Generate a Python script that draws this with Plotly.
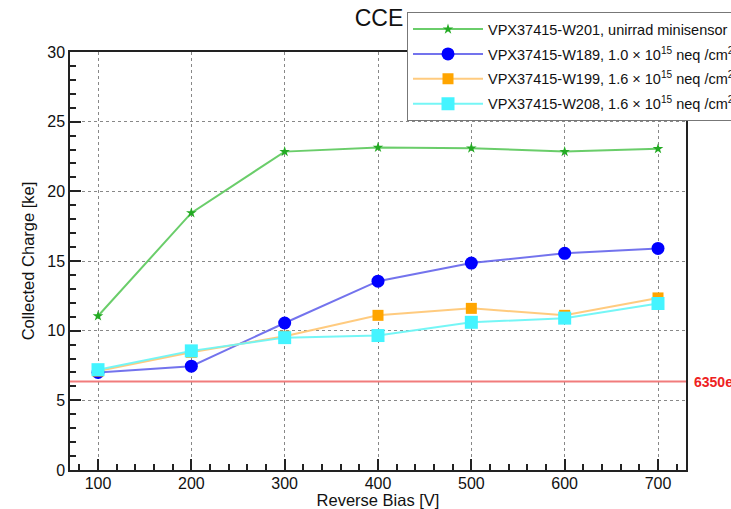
import plotly.graph_objects as go

bias = [100, 200, 300, 400, 500, 600, 700]
w201 = [11.05, 18.45, 22.85, 23.15, 23.1, 22.85, 23.05]
w189 = [7.0, 7.45, 10.55, 13.55, 14.85, 15.55, 15.9]
w199 = [7.1, 8.45, 9.6, 11.1, 11.6, 11.1, 12.35]
w208 = [7.2, 8.55, 9.5, 9.65, 10.6, 10.9, 11.95]
threshold = 6.35
threshold_label = "6350e"

names = [
    "VPX37415-W201, unirrad minisensor",
    "VPX37415-W189, 1.0 × 10<sup>15</sup> neq /cm<sup>2</sup>",
    "VPX37415-W199, 1.6 × 10<sup>15</sup> neq /cm<sup>2</sup>",
    "VPX37415-W208, 1.6 × 10<sup>15</sup> neq /cm<sup>2</sup>",
]

FONT = "Liberation Sans, Arial, Helvetica, sans-serif"

fig = go.Figure()
styles = [
    (w201, "rgba(90,200,90,0.9)", "#22aa22", "star", 8),
    (w189, "rgba(100,100,235,0.9)", "#0000ff", "circle", 13),
    (w199, "rgba(255,200,120,0.95)", "#ffa500", "square", 11),
    (w208, "rgba(110,245,245,0.95)", "#44f4ff", "square", 13),
]
for i, ((vals, lc, mc, sym, sz), nm) in enumerate(zip(styles, names)):
    fig.add_trace(go.Scatter(
        x=bias, y=vals, name=nm, mode="lines+markers", legendgroup="g%d" % i,
        line=dict(color=lc, width=2),
        marker=dict(color=mc, symbol=sym, size=sz, line=dict(width=0)),
    ))

fig.add_shape(type="line", xref="paper", x0=0, x1=1, yref="y", y0=threshold, y1=threshold,
              line=dict(color="rgba(240,110,110,0.9)", width=2), layer="above")
fig.add_annotation(text="<b>" + threshold_label + "</b>", xref="paper", x=1.01, yref="y", y=threshold,
                   xanchor="left", yanchor="middle", showarrow=False,
                   font=dict(color="#ee2222", size=14, family=FONT))

axis_common = dict(
    showline=True, linecolor="#222", linewidth=1.5, mirror=True,
    ticks="inside", tickcolor="#222", tickwidth=1.5,
    showgrid=True, gridcolor="#888", griddash="dot", gridwidth=1,
    zeroline=False, automargin=False,
    tickfont=dict(size=16, family=FONT, color="#111"),
)

fig.update_xaxes(
    range=[70, 730], tick0=100, dtick=100, ticklen=11, ticklabelstandoff=-2,
    minor=dict(dtick=20, tick0=100, ticks="inside", ticklen=6, tickcolor="#222", showgrid=False),
    title=dict(text="Reverse Bias [V]", font=dict(size=16.5, family=FONT, color="#111"), standoff=6),
    **axis_common,
)
fig.update_yaxes(
    range=[0, 30], tick0=0, dtick=5, ticklen=11,
    minor=dict(dtick=1, tick0=0, ticks="inside", ticklen=6, tickcolor="#222", showgrid=False),
    title=dict(text="Collected Charge [ke]", font=dict(size=16.5, family=FONT, color="#111"), standoff=8),
    **axis_common,
)

fig.update_layout(
    width=770, height=509,
    margin=dict(l=70, r=84, t=50, b=39),
    paper_bgcolor="white", plot_bgcolor="white",
    title=dict(text="CCE", x=379 / 770, xanchor="center", y=1 - 18 / 509, yanchor="middle",
               font=dict(size=23, family=FONT, color="#111")),
    legend=dict(
        x=(407 - 70) / 616, y=1 + 40 / 420, xanchor="left", yanchor="top",
        bgcolor="white", bordercolor="#777", borderwidth=1,
        font=dict(size=14.5, family=FONT, color="#111"),
        itemwidth=70, tracegroupgap=3,
    ),
    showlegend=True,
)

fig.write_html(
    "out.html",
    config={"displayModeBar": False},
    post_script="document.body.style.margin='0px';document.body.style.overflow='hidden';"
                "document.documentElement.style.overflow='hidden';",
)
